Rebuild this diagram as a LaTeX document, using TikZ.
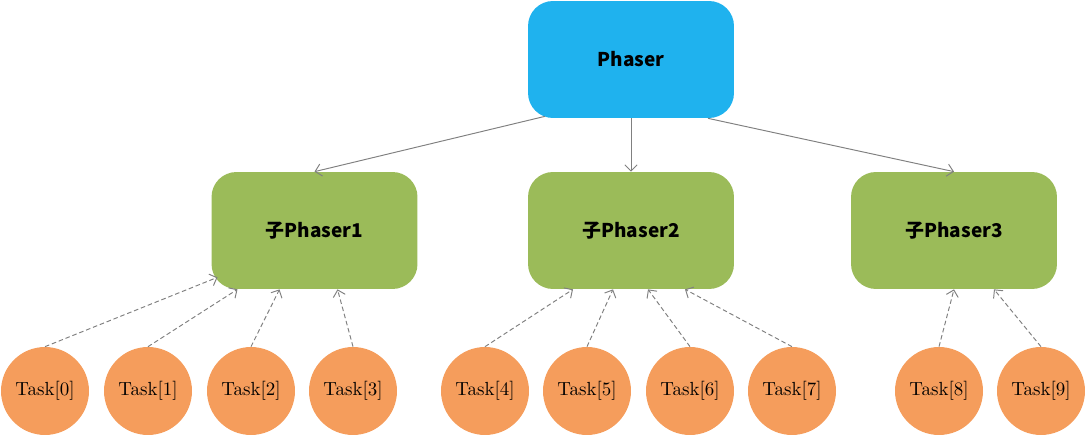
\documentclass[tikz,border=0pt]{standalone}
\usepackage{fontspec}
\newfontfamily\cjkfont{Noto Sans CJK SC}
\usetikzlibrary{arrows.meta,calc}
\definecolor{phaserblue}{RGB}{31,178,238}
\definecolor{subgreen}{RGB}{155,187,89}
\definecolor{taskorange}{RGB}{245,157,92}
\definecolor{linkgray}{RGB}{128,128,128}
\begin{document}
\begin{tikzpicture}[x=0.02cm,y=-0.02cm,>={Straight Barb[length=3.5pt,width=7pt]},
  phaserbox/.style={fill=phaserblue,rounded corners=0.5cm,minimum width=4.12cm,minimum height=2.34cm,
    font=\cjkfont\bfseries\fontsize{10.8}{13}\selectfont},
  subbox/.style={phaserbox,fill=subgreen},
  taskcircle/.style={circle,fill=taskorange,minimum size=1.76cm,inner sep=0pt,font=\fontsize{10.8}{13}\selectfont},
  link/.style={->,draw=linkgray,line width=0.55pt},
  wait/.style={link,dash pattern=on 2.6pt off 1.6pt}]
  \useasboundingbox (0,0) rectangle (1085,435);
  \node[phaserbox] (phaser) at (631,59.5) {Phaser};
  \node[subbox] (sub1) at (314.5,230.5) {子Phaser1};
  \node[subbox] (sub2) at (631,230.5) {子Phaser2};
  \node[subbox] (sub3) at (954,230.5) {子Phaser3};
  \foreach \i/\x in {0/45,1/148,2/251,3/353,4/485,5/587,6/690,7/792,8/939,9/1041}
    \node[taskcircle] (task\i) at (\x,391) {Task[\i]};
  \draw[link] ($(phaser.south)+(-86,-2)$) -- (sub1.north);
  \draw[link] (phaser.south) -- (sub2.north);
  \draw[link] ($(phaser.south)+(77,0)$) -- (sub3.north);
  \foreach \i/\p/\dx/\dy in {0/sub1/-97/-12,1/sub1/-77/0,2/sub1/-35/0,3/sub1/23/0,
      4/sub2/-58/0,5/sub2/-18/0,6/sub2/17/0,7/sub2/54/0,8/sub3/0/0,9/sub3/40/0}
    \draw[wait] (task\i.north) -- ($(\p.south)+(\dx,\dy)$);
\end{tikzpicture}
\end{document}
